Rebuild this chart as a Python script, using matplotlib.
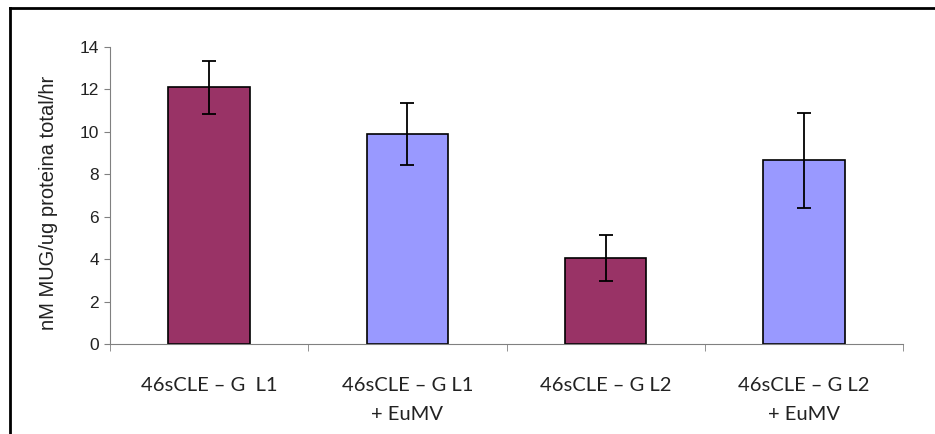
import numpy as np
import matplotlib.pyplot as plt
from matplotlib.lines import Line2D

# data
labels = ['46sCLE – G  L1', '46sCLE – G L1\n+ EuMV', '46sCLE – G L2', '46sCLE – G L2\n+ EuMV']
values = [12.1, 9.9, 4.05, 8.65]
errors = [1.25, 1.45, 1.07, 2.25]
colors = ['#993366', '#9999FF', '#993366', '#9999FF']

fig = plt.figure(figsize=(9.35, 4.34), dpi=100)
ax = fig.add_axes([110/935, 1 - 344/434, 793/935, 297/434])

x = np.arange(len(values))
ax.bar(x, values, width=0.41, color=colors, edgecolor='black', linewidth=1.2,
       yerr=errors, error_kw=dict(ecolor='black', elinewidth=1.3, capsize=5, capthick=1.3))

ax.set_xlim(-0.5, 3.5)
ax.set_ylim(0, 14)
ax.set_yticks(np.arange(0, 15, 2))
ax.tick_params(axis='y', labelsize=12.5, length=4, color='#808080', pad=4, labelcolor='#222222')
for t in ax.get_yticklabels():
    t.set_family('Liberation Sans')

ax.set_xticks(x)
ax.set_xticklabels(labels, family='Lato', fontsize=14.5, linespacing=1.8, color='#222222')
ax.tick_params(axis='x', which='major', length=0, pad=24)
ax.set_xticks(np.arange(-0.5, 4, 1), minor=True)
ax.tick_params(axis='x', which='minor', length=5, color='#808080')

for s in ['top', 'right']:
    ax.spines[s].set_visible(False)
ax.spines['left'].set_color('#808080')
ax.spines['bottom'].set_color('#808080')

ax.set_ylabel('nM MUG/ug proteina total/hr', family='Liberation Sans', fontsize=14.5, color='#222222')
ax.yaxis.set_label_coords(-0.066, 0.475)

# outer frame (top and left only visible)
fig.add_artist(Line2D([10/935, 10/935], [0, 1 - 8/434], color='black', linewidth=2))
fig.add_artist(Line2D([10/935, 1], [1 - 8/434, 1 - 8/434], color='black', linewidth=2))

fig.savefig('out.png', dpi=100)
